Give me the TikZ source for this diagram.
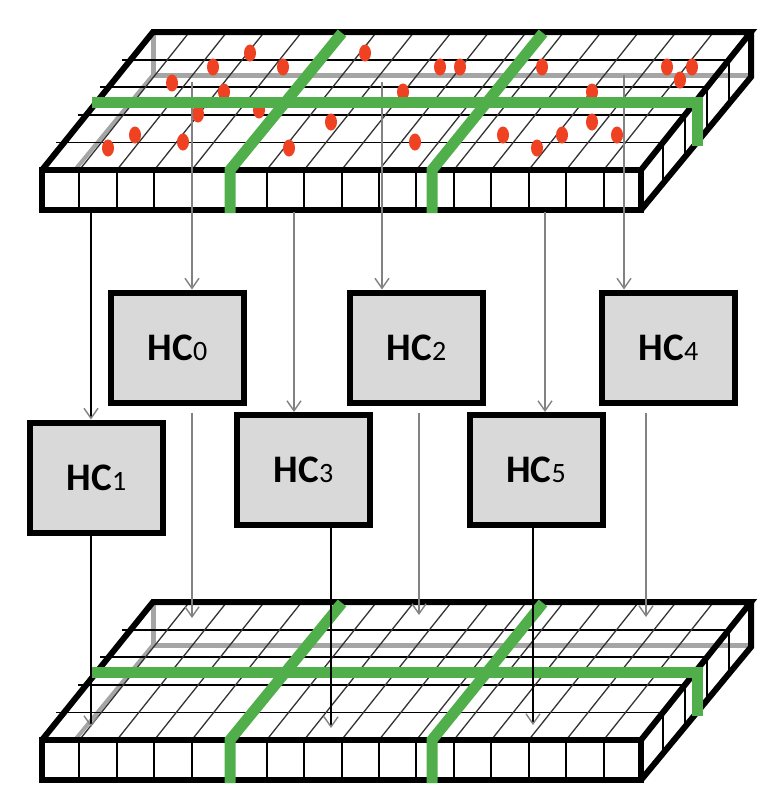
\documentclass[tikz,border=0pt]{standalone}
\usepackage{fontspec}
\newfontfamily\hcfont{Carlito}
\usetikzlibrary{arrows.meta}

\definecolor{bandgreen}{RGB}{80,175,75}
\definecolor{dotred}{RGB}{238,66,34}
\definecolor{hiddengray}{RGB}{165,165,165}
\definecolor{boxgray}{RGB}{217,217,217}
\definecolor{feedgray}{RGB}{130,130,130}

\tikzset{
  slabedge/.style={draw=black, line width=6pt, line join=miter},
  hiddenedge/.style={draw=hiddengray, line width=5pt},
  rowline/.style={draw=black, line width=1.8pt},
  depthline/.style={draw=black!80, line width=1.3pt},
  cellline/.style={draw=black, line width=2pt},
  band/.style={draw=bandgreen, line width=11pt, line join=miter},
  hcbox/.style={draw=black, line width=6pt, fill=boxgray, minimum width=133pt,
    minimum height=110pt, inner sep=0pt, font=\hcfont\bfseries\fontsize{39}{39}\selectfont},
  barb/.style={-{Straight Barb[length=10pt,width=14pt,line width=1.4pt,color=feedgray]}},
  feedback/.style={barb, draw=feedgray, line width=1.6pt},
  feedfront/.style={barb, draw=black, line width=1.1pt},
}

% subscript digit of a hypercolumn label
\newcommand\hcidx[1]{{\mdseries\fontsize{28}{28}\selectfont #1}}

% slab body: hidden edges, top grid, front face, right face
\newcommand\slabbody[1]{%
  \begin{scope}[shift={(0,#1)}]
    \draw[hiddenedge] (153,32) -- (153,75) -- (751,75);
    \draw[hiddenedge, line width=4pt] (153,75) -- (42,210);
    \foreach \f in {0.2,0.4,0.6,0.8}
      \draw[rowline] ({42+110*\f-8},{170-138*\f}) -- ({641+110*\f},{170-138*\f});
    \foreach \k in {1,...,15}
      \draw[depthline] ({42+37.44*\k},170) -- ++(110,-138);
    \fill[white] (42,170) rectangle (641,210);
    \foreach \k in {1,...,15}
      \draw[cellline] ({42+37.44*\k},170) -- ({42+37.44*\k},210);
    \foreach \f in {0.2,0.4,0.6,0.8}
      \draw[cellline] ({641+110*\f},{170-138*\f}) -- ({641+110*\f},{210-133*\f});
    \draw[slabedge] (42,170) rectangle (641,210);
    \draw[slabedge] (42,170) -- (153,32) -- (751,32) -- (641,170);
    \draw[slabedge] (751,32) -- (751,77) -- (641,210);
  \end{scope}}

% green partition bands on a slab
\newcommand\slabbands[1]{%
  \begin{scope}[shift={(0,#1)}]
    \draw[band] (92,102) -- (697,102) -- (697,146);
    \draw[band] (342,33) -- (230,170) -- (230,213);
    \draw[band] (543,33) -- (432,170) -- (432,213);
  \end{scope}}

\begin{document}
\begin{tikzpicture}[x=1pt, y=-1pt]
  \useasboundingbox (0,0) rectangle (781,793);

  % upper slab with its active points
  \slabbody{0}
  \foreach \px/\py in {108/148, 135/135, 183/142, 172/83, 213/67, 250/53, 283/67,
      224/92, 198/114, 259/110, 289/148, 331/122, 365/53, 403/92, 415/142,
      440/67, 460/67, 542/67, 503/135, 537/148, 562/135, 592/92, 592/122,
      617/135, 667/67, 692/67, 680/80}
    \fill[dotred] (\px,\py) ellipse [x radius=6, y radius=8.5];

  % hypercolumn boxes
  \node[hcbox] (hc0) at (177.5,347.5) {HC\hcidx{0}};
  \node[hcbox] (hc2) at (416.5,347.5) {HC\hcidx{2}};
  \node[hcbox] (hc4) at (668.5,347.5) {HC\hcidx{4}};
  \node[hcbox] (hc1) at (96.5,477.5) {HC\hcidx{1}};
  \node[hcbox] (hc3) at (303.5,470) {HC\hcidx{3}};
  \node[hcbox] (hc5) at (536,470) {HC\hcidx{5}};

  % inputs from the upper slab
  \coordinate (t0) at (192,82);
  \coordinate (t1) at (91,212);
  \coordinate (t2) at (382,82);
  \coordinate (t3) at (294,212);
  \coordinate (t4) at (624,75);
  \coordinate (t5) at (545,212);
  \draw[feedback] (t0) -- (t0 |- hc0.north);
  \draw[feedfront] (t1) -- (t1 |- hc1.north);
  \draw[feedback] (t2) -- (t2 |- hc2.north);
  \draw[feedback] (t3) -- (t3 |- hc3.north);
  \draw[feedback] (t4) -- (t4 |- hc4.north);
  \draw[feedback] (t5) -- (t5 |- hc5.north);
  \slabbands{0}

  % lower slab
  \slabbody{570}
  \slabbands{570}

  % outputs into the lower slab
  \coordinate (b0) at (192,618);
  \coordinate (b1) at (91,727);
  \coordinate (b2) at (419,615);
  \coordinate (b3) at (331,728);
  \coordinate (b4) at (646,617);
  \coordinate (b5) at (533,725);
  \draw[feedback, shorten <=7pt] (b0 |- hc0.south) -- (b0);
  \draw[feedfront] (b1 |- hc1.south) -- (b1);
  \draw[feedback, shorten <=7pt] (b2 |- hc2.south) -- (b2);
  \draw[feedfront] (b3 |- hc3.south) -- (b3);
  \draw[feedback, shorten <=7pt] (b4 |- hc4.south) -- (b4);
  \draw[feedfront] (b5 |- hc5.south) -- (b5);
\end{tikzpicture}
\end{document}
